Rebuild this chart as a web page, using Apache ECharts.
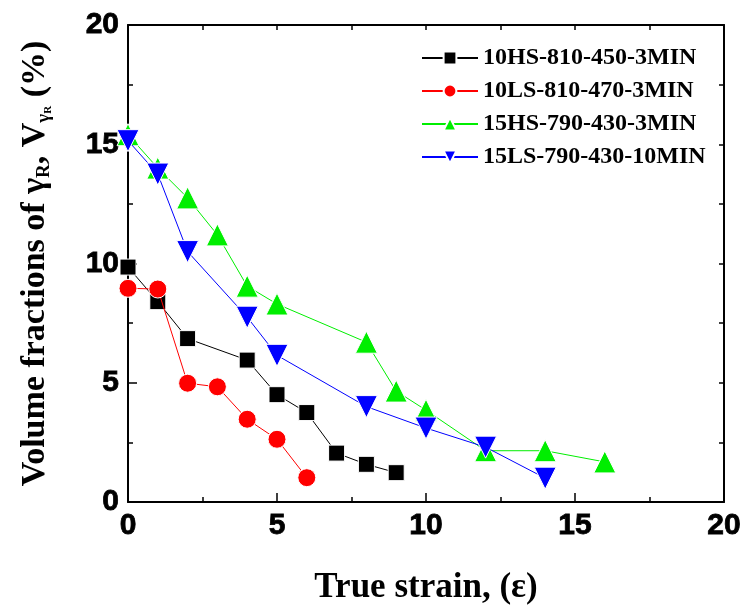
<!DOCTYPE html>
<html><head><meta charset="utf-8">
<script src="https://cdn.jsdelivr.net/npm/echarts@6/dist/echarts.min.js"></script>
<style>html,body{margin:0;padding:0;background:#fff}#c{width:749px;height:614px}</style>
</head><body><div id="c"></div>
<script>
const seriesNames = ['10HS-810-450-3MIN','10LS-810-470-3MIN','15HS-790-430-3MIN','15LS-790-430-10MIN'];
const hs10x = [0,1,2,4,5,6,7,8,9];
const hs10y = [9.85,8.4,6.85,5.95,4.5,3.75,2.05,1.58,1.23];
const ls10x = [0,1,2,3,4,5,6];
const ls10y = [8.96,8.93,4.98,4.83,3.47,2.63,1.02];
const hs15x = [0,1,2,3,4,5,8,9,10,12,14,16];
const hs15y = [15.4,14.0,12.75,11.2,9.05,8.3,6.7,4.65,3.85,2.15,2.15,1.68];
const ls15x = [0,1,2,4,5,8,10,12,14];
const ls15y = [15.15,13.75,10.5,7.75,6.15,4.0,3.1,2.3,1.0];
const xTicks = [0,5,10,15,20];
const yTicks = [0,5,10,15,20];

const pair = (xs, ys) => xs.map((x,i)=>[x, ys[i]]);
const colors = ['#000000','#ff0000','#00ee00','#0000ff'];
const symbols = ['rect','circle','triangle','triangle'];
const rotates = [0,0,0,180];
const sizes = [16,18,22,22];
const datas = [pair(hs10x,hs10y), pair(ls10x,ls10y), pair(hs15x,hs15y), pair(ls15x,ls15y)];

const chart = echarts.init(document.getElementById('c'), null, {renderer:'canvas'});
const tickFont = {fontFamily:'Liberation Sans', fontWeight:'bold', fontSize:30, color:'#000', textBorderColor:'#000', textBorderWidth:0.8};
const axisLine = {show:true, onZero:false, lineStyle:{color:'#000', width:2}};
function mkAxis(pos, labels, list){
  return {type:'value', min:0, max:20, interval:5, position:pos,
    axisLine:axisLine, axisTick:{show:true, inside:true, length:labels?9:5, lineStyle:{width:1.5,color:'#000'}},
    minorTick:{show:true, splitNumber:2, length:5, lineStyle:{width:1.5,color:'#000'}},
    splitLine:{show:false},
    axisLabel: labels ? Object.assign({margin:9, formatter:(v)=>list.includes(v)?String(v):''}, tickFont) : {show:false}};
}
const xa = [mkAxis('bottom', true, xTicks), mkAxis('top', false, xTicks)];
xa[0].name = 'True strain, (ε)';
xa[0].nameLocation = 'middle';
xa[0].nameGap = 68;
xa[0].nameTextStyle = {fontFamily:'Liberation Serif', fontWeight:'bold', fontSize:35, color:'#000'};
const ya = [mkAxis('left', true, yTicks), mkAxis('right', false, yTicks)];
ya[0].name = 'Volume fractions of γ{s|R}, V{s|γ}{ss|R} (%)';
ya[0].nameLocation = 'middle';
ya[0].nameGap = 74;
ya[0].nameRotate = 90;
ya[0].nameTextStyle = {fontFamily:'Liberation Serif', fontWeight:'bold', fontSize:34, color:'#000',
  rich:{s:{fontFamily:'Liberation Serif', fontWeight:'bold', fontSize:19, color:'#000', verticalAlign:'bottom', padding:[16,0,0,0]},
        ss:{fontFamily:'Liberation Serif', fontWeight:'bold', fontSize:11, color:'#000', verticalAlign:'bottom', padding:[26,0,0,0]}}};

chart.setOption({
  animation:false,
  grid:{left:128, top:25, width:596, height:477, containLabel:false},
  xAxis: xa,
  yAxis: ya,
  legend:{orient:'vertical', left:416, top:41, itemWidth:56, itemHeight:16, itemGap:9,
    textStyle:{fontFamily:'Liberation Serif', fontWeight:'bold', fontSize:24, color:'#000'},
    data:seriesNames},
  series: seriesNames.map((n,i)=>({
    name:n, type:'line', data:datas[i], xAxisIndex:0, yAxisIndex:0,
    symbol:symbols[i], symbolSize:sizes[i], symbolRotate:rotates[i],
    lineStyle:{color:colors[i], width:1},
    itemStyle:{color:colors[i], borderColor:'#fff', borderWidth:1},
    z:2+i
  }))
});
</script></body></html>
